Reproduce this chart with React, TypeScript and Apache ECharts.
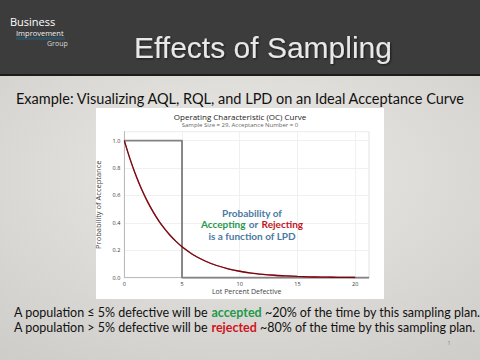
import React, { useEffect, useRef } from "react";
import * as echarts from "echarts";

const lotPercentDefective = [0, 0.5, 1, 1.5, 2, 2.5, 3, 3.5, 4, 4.5, 5, 6, 7, 8, 9, 10, 11, 12, 13, 14, 15, 16, 17, 18, 19, 20];
const probAcceptance = [1.0, 0.865, 0.747, 0.645, 0.557, 0.48, 0.413, 0.356, 0.306, 0.263, 0.226, 0.166, 0.122, 0.089, 0.065, 0.047, 0.034, 0.025, 0.018, 0.013, 0.009, 0.006, 0.0045, 0.0032, 0.0022, 0.0015];
const idealX = [0, 5, 5, 21.2];
const idealY = [1, 1, 0, 0];
const xTicks = [0, 5, 10, 15, 20];
const yTicks = [0, 0.2, 0.4, 0.6, 0.8, 1.0];

export default function App() {
  const ref = useRef<HTMLDivElement>(null);
  useEffect(() => {
    document.body.style.margin = "0";
    const chart = echarts.init(ref.current!, undefined, { renderer: "svg" });
    const body = "Lato, 'Open Sans', sans-serif";
    const seg = "'Open Sans', 'Noto Sans', sans-serif";
    chart.setOption({
      animation: false,
      backgroundColor: "#dad8d4",
      graphic: [
        {
          type: "rect", z: -10, silent: true,
          shape: { x: 0, y: 76, width: 480, height: 284 },
          style: {
            fill: new echarts.graphic.RadialGradient(0.5, 0.35, 0.8, [
              { offset: 0, color: "#ebeae7" },
              { offset: 1, color: "#cfcdc9" },
            ]),
          },
        },
        { type: "rect", z: -9, shape: { x: 0, y: 0, width: 480, height: 74 }, style: { fill: "#3c3c3c" } },
        { type: "rect", z: -9, shape: { x: 0, y: 74, width: 480, height: 2 }, style: { fill: "#1c1c1c" } },
        { type: "rect", z: -9, shape: { x: 16, y: 37, width: 49, height: 3 }, style: { fill: "#2f4f5f" } },
        { type: "text", left: 10, top: 16, style: { text: "Business", fill: "#ffffff", font: `11px ${seg}` } },
        { type: "text", left: 16, top: 29, style: { text: "Improvement", fill: "#f0f0f0", font: `7.5px ${seg}` } },
        { type: "text", left: 47, top: 40, style: { text: "Group", fill: "#d8d8d8", font: `7px ${seg}` } },
        {
          type: "text", x: 263, y: 47,
          style: {
            text: "Effects of Sampling", fill: "#e8e8e8", font: "30px 'Liberation Sans', Arial, sans-serif",
            align: "center", verticalAlign: "middle", textShadowColor: "rgba(0,0,0,0.6)", textShadowBlur: 2, textShadowOffsetX: 1, textShadowOffsetY: 1,
          },
        },
        {
          type: "text", x: 240, y: 98,
          style: { text: "Example: Visualizing AQL, RQL, and LPD on an Ideal Acceptance Curve", fill: "#111", font: `14.5px ${body}`, align: "center", verticalAlign: "middle" },
        },
        { type: "rect", z: -5, shape: { x: 96, y: 108, width: 288, height: 191 }, style: { fill: "#ffffff" } },
        {
          type: "text", x: 240, y: 116,
          style: { text: "Operating Characteristic (OC) Curve", fill: "#222", font: `8px ${seg}`, align: "center", verticalAlign: "middle" },
        },
        {
          type: "text", x: 240, y: 125,
          style: { text: "Sample Size = 29, Acceptance Number = 0", fill: "#666", font: `6px ${seg}`, align: "center", verticalAlign: "middle" },
        },
        {
          type: "text", x: 252, y: 224, z: 10,
          style: {
            text: "{b|Probability of}\n{g|Accepting} {b|or} {r|Rejecting}\n{b|is a function of LPD}",
            align: "center", verticalAlign: "middle",
            rich: {
              b: { fill: "#4a7aa3", font: `bold 10px ${body}`, lineHeight: 11 },
              g: { fill: "#1f9a4b", font: `bold 10px ${body}`, lineHeight: 11 },
              r: { fill: "#c0141c", font: `bold 10px ${body}`, lineHeight: 11 },
            },
          },
        },
        {
          type: "text", left: 14, top: 306,
          style: {
            text: "{n|A population ≤ 5% defective will be }{g|accepted}{n| ~20% of the time by this sampling plan.}\n{n|A population > 5% defective will be }{r|rejected}{n| ~80% of the time by this sampling plan.}",
            rich: {
              n: { fill: "#111", font: `12.5px ${body}`, lineHeight: 15 },
              g: { fill: "#1f9a4b", font: `bold 12.5px ${body}`, lineHeight: 15 },
              r: { fill: "#d0141c", font: `bold 12.5px ${body}`, lineHeight: 15 },
            },
          },
        },
        { type: "text", x: 449, y: 343, style: { text: "1", fill: "#888", font: `6px ${seg}`, align: "center", verticalAlign: "middle" } },
      ],
      grid: { left: 124.3, right: 111, top: 131.7, bottom: 82.3, show: true, borderColor: "#e2e2e2", borderWidth: 1 },
      xAxis: {
        type: "value", min: 0, max: 21.2, interval: 5,
        name: "Lot Percent Defective", nameLocation: "middle", nameGap: 10,
        nameTextStyle: { fontSize: 7, color: "#444", fontFamily: seg },
        axisLine: { show: true, onZero: false, lineStyle: { color: "#bbb", width: 1 } },
        axisTick: { show: false },
        axisLabel: {
          fontSize: 5.5, color: "#333", margin: 3, fontFamily: seg, showMaxLabel: false,
          formatter: (v: number) => (xTicks.includes(v) ? String(v) : ""),
        },
        splitLine: { show: true, lineStyle: { color: "#f0f0f0", width: 1 } },
      },
      yAxis: {
        type: "value", min: 0, max: 1.065, interval: 0.2,
        name: "Probability of Acceptance", nameLocation: "middle", nameGap: 14, nameRotate: 90,
        nameTextStyle: { fontSize: 7.5, color: "#444", fontFamily: seg },
        axisLine: { show: true, lineStyle: { color: "#bbb", width: 1 } },
        axisTick: { show: false },
        axisLabel: {
          fontSize: 5.5, color: "#333", margin: 4, fontFamily: seg, showMaxLabel: false,
          formatter: (v: number) => {
            const t = yTicks.find((y) => Math.abs(y - v) < 1e-6);
            return t === undefined ? "" : t.toFixed(1);
          },
        },
        splitLine: { show: true, lineStyle: { color: "#f0f0f0", width: 1 } },
      },
      series: [
        {
          type: "line", name: "Ideal", data: idealX.map((x, i) => [x, idealY[i]]),
          showSymbol: false, lineStyle: { color: "#828282", width: 1.9 }, z: 2,
        },
        {
          type: "line", name: "OC", data: lotPercentDefective.map((x, i) => [x, probAcceptance[i]]),
          showSymbol: false, smooth: 0.3, lineStyle: { color: "#6a0a14", width: 1.3, shadowColor: "rgba(220,0,0,0.6)", shadowBlur: 1 }, z: 3,
        },
      ],
    });
    return () => chart.dispose();
  }, []);
  return <div ref={ref} style={{ width: 480, height: 360, position: "fixed", left: 0, top: 0 }} />;
}
